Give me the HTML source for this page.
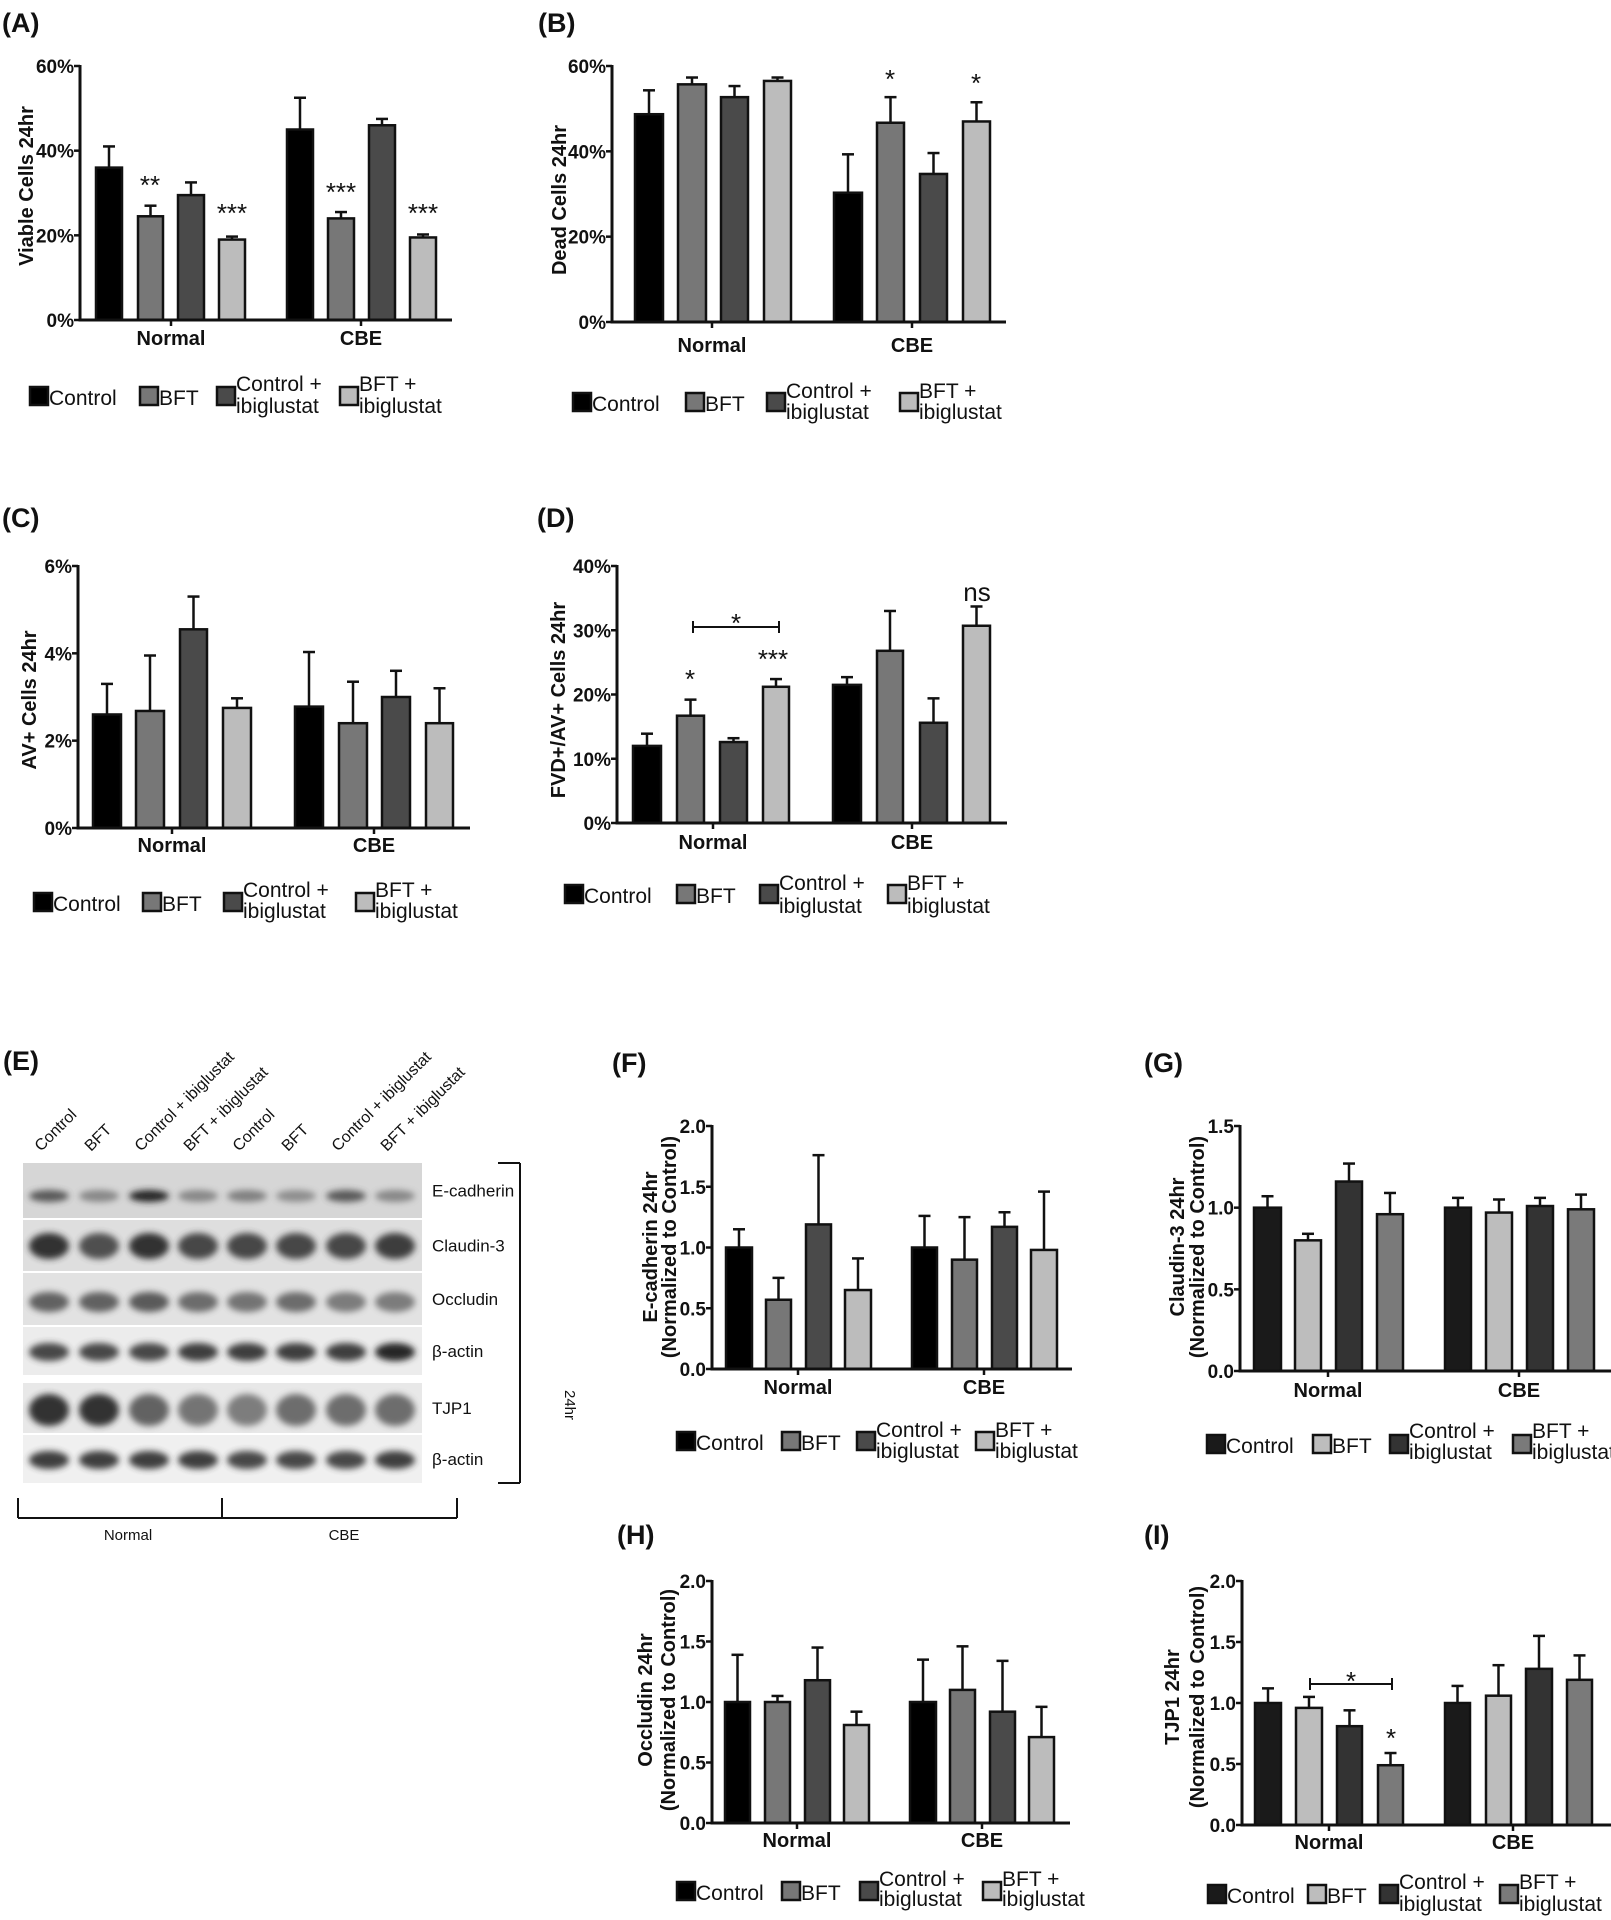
<!DOCTYPE html>
<html><head><meta charset="utf-8"><style>
html,body{margin:0;padding:0;background:#fff;}
svg{display:block;font-family:"Liberation Sans",Arial,sans-serif;}
</style></head><body>
<svg id="s" width="1611" height="1920" viewBox="0 0 1611 1920" xmlns="http://www.w3.org/2000/svg">
<defs>
<filter id="bl" x="-30%" y="-100%" width="160%" height="300%"><feGaussianBlur stdDeviation="3.2"/></filter>
</defs>
<g id="g"></g>
</svg>
<script>
var out=[];
function T(x,y,s,size,opt){opt=opt||{};
 out.push('<text x="'+x+'" y="'+y+'" font-size="'+size+'"'+(opt.b?' font-weight="bold"':'')+' text-anchor="'+(opt.a||'start')+'"'+(opt.tr?' transform="'+opt.tr+'"':'')+' fill="#111">'+s+'</text>');}
function L(x1,y1,x2,y2,w){out.push('<line x1="'+x1+'" y1="'+y1+'" x2="'+x2+'" y2="'+y2+'" stroke="#111" stroke-width="'+(w||2.5)+'"/>');}
function R(x,y,w,h,f,sw){out.push('<rect x="'+x+'" y="'+y+'" width="'+w+'" height="'+h+'" fill="'+f+'" stroke="#111" stroke-width="'+(sw||2.5)+'"/>');}
var C1=['#000','#777','#4a4a4a','#bcbcbc'];
var C2=['#1a1a1a','#bdbdbd','#333','#7a7a7a'];
function P(c){
 var ys=function(v){return c.y0-(v/c.ymax)*(c.y0-c.yt);};
 c.bars.forEach(function(b,i){
  var x1=b[0],x2=b[1],v=b[2],e=b[3],col=c.col[i%4];
  var yt=ys(v),ye=ys(e),cx=(x1+x2)/2;
  L(cx,yt,cx,ye,2.5);L(cx-6,ye,cx+6,ye,2.5);
  R(x1,yt,x2-x1,c.y0-yt,col,2.5);
 });
 L(c.ax,c.yt-1,c.ax,c.y0+1.5,3);L(c.ax-1.5,c.y0,c.xe,c.y0,3);
 c.ticks.forEach(function(t){var y=ys(t[0]);L(c.ax-6,y,c.ax,y,2.5);T(c.ax-6,y+7,t[1],19,{b:1,a:'end'});});
 L(c.nx,c.y0,c.nx,c.y0+6,2.5);L(c.cx,c.y0,c.cx,c.y0+6,2.5);
 T(c.nx,c.cy+1,'Normal',20,{b:1,a:'middle'});T(c.cx,c.cy+1,'CBE',20,{b:1,a:'middle'});
 c.title.forEach(function(t){T(t[0]+1,t[1],t[2],20,{b:1,a:'middle',tr:'rotate(-90 '+(t[0]+1)+' '+t[1]+')'});});
 var lg=c.lg,sz=18;
 var lab=[['Control'],['BFT'],['Control +','ibiglustat'],['BFT +','ibiglustat']];
 lg.x.forEach(function(x,i){
  R(x,lg.y,sz,sz,c.col[i],2.5);
  if(lab[i].length==1)T(x+sz+1,lg.y+sz,lab[i][0],21);
  else{T(x+sz+1,lg.b1,lab[i][0],21);T(x+sz+1,lg.b2,lab[i][1],21);}
 });
 (c.extra||[]).forEach(function(f){f(ys);});
 T(c.lx,c.ly,c.label,27,{b:1});
}
try{
P({ax:80,yt:66,y0:320,ymax:60,xe:452,ticks:[[0,'0%'],[20,'20%'],[40,'40%'],[60,'60%']],
 bars:[[96,122,36,41],[138,163,24.5,27],[178,204,29.5,32.5],[219,245,19,19.7],[287,313,45,52.5],[328,354,24,25.5],[369,395,46,47.5],[410,436,19.5,20.2]],
 col:C1,nx:171,cx:361,cy:344,title:[[32,186,'Viable Cells 24hr']],
 lg:{x:[30,140,217,340],y:387,b1:391,b2:413},label:'(A)',lx:2,ly:32,
 extra:[function(){T(150,194,'**',26,{a:'middle'});T(232,222,'***',26,{a:'middle'});T(341,201,'***',26,{a:'middle'});T(423,222,'***',26,{a:'middle'});}]});
P({ax:612,yt:66,y0:322,ymax:60,xe:1006,ticks:[[0,'0%'],[20,'20%'],[40,'40%'],[60,'60%']],
 bars:[[635,663,48.7,54.3],[678,706,55.7,57.3],[721,748,52.7,55.3],[764,791,56.5,57.3],[834,862,30.3,39.3],[877,904,46.7,52.7],[920,947,34.7,39.6],[963,990,47,51.5]],
 col:C1,nx:712,cx:912,cy:351,title:[[565,200,'Dead Cells 24hr']],
 lg:{x:[573,686,767,900],y:393,b1:398,b2:419},label:'(B)',lx:538,ly:32,
 extra:[function(){T(890,88,'*',26,{a:'middle'});T(976,92,'*',26,{a:'middle'});}]});
P({ax:78,yt:566,y0:828,ymax:6,xe:470,ticks:[[0,'0%'],[2,'2%'],[4,'4%'],[6,'6%']],
 bars:[[93,121,2.6,3.3],[136,164,2.68,3.95],[180,207,4.55,5.3],[223,251,2.75,2.97],[295,323,2.78,4.03],[339,367,2.4,3.35],[382,410,3.0,3.6],[426,453,2.4,3.2]],
 col:C1,nx:172,cx:374,cy:851,title:[[35,700,'AV+ Cells 24hr']],
 lg:{x:[34,143,224,356],y:893,b1:897,b2:918},label:'(C)',lx:2,ly:527});
P({ax:617,yt:566,y0:823,ymax:40,xe:1007,ticks:[[0,'0%'],[10,'10%'],[20,'20%'],[30,'30%'],[40,'40%']],
 bars:[[633,661,12,13.9],[677,704,16.7,19.2],[720,747,12.6,13.2],[763,789,21.2,22.4],[833,861,21.5,22.7],[877,903,26.8,33],[920,947,15.6,19.4],[963,990,30.7,33.7]],
 col:C1,nx:713,cx:912,cy:848,title:[[564,700,'FVD+/AV+ Cells 24hr']],
 lg:{x:[565,677,760,888],y:885,b1:890,b2:913},label:'(D)',lx:537,ly:527,
 extra:[function(){T(690,688,'*',26,{a:'middle'});T(773,668,'***',26,{a:'middle'});
  L(693,627,779,627,2);L(693,621,693,633,2);L(779,621,779,633,2);T(736,632,'*',26,{a:'middle'});
  T(977,601,'ns',26,{a:'middle'});}]});
P({ax:712,yt:1126,y0:1369,ymax:2,xe:1072,ticks:[[0,'0.0'],[0.5,'0.5'],[1,'1.0'],[1.5,'1.5'],[2,'2.0']],
 bars:[[726,752,1.0,1.15],[766,791,.57,.75],[806,831,1.19,1.76],[845,871,.65,.91],[912,937,1.0,1.26],[952,977,.9,1.25],[992,1017,1.17,1.29],[1031,1057,.98,1.46]],
 col:C1,nx:798,cx:984,cy:1393,title:[[656,1247,'E-cadherin 24hr'],[675,1247,'(Normalized to Control)']],
 lg:{x:[677,782,857,976],y:1432,b1:1437,b2:1458},label:'(F)',lx:612,ly:1072});
P({ax:1240,yt:1126,y0:1371,ymax:1.5,xe:1611,ticks:[[0,'0.0'],[0.5,'0.5'],[1,'1.0'],[1.5,'1.5']],
 bars:[[1254,1281,1.0,1.07],[1295,1321,.8,.84],[1336,1362,1.16,1.27],[1377,1403,.96,1.09],[1445,1471,1.0,1.06],[1486,1512,.97,1.05],[1527,1553,1.01,1.06],[1568,1594,.99,1.08]],
 col:C2,nx:1328,cx:1519,cy:1396,title:[[1183,1247,'Claudin-3 24hr'],[1203,1247,'(Normalized to Control)']],
 lg:{x:[1207,1313,1390,1513],y:1435,b1:1438,b2:1459},label:'(G)',lx:1144,ly:1072});
P({ax:712,yt:1581,y0:1823,ymax:2,xe:1070,ticks:[[0,'0.0'],[0.5,'0.5'],[1,'1.0'],[1.5,'1.5'],[2,'2.0']],
 bars:[[725,750,1.0,1.39],[765,790,1.0,1.05],[805,830,1.18,1.45],[844,869,.81,.92],[910,936,1.0,1.35],[950,975,1.1,1.46],[990,1015,.92,1.34],[1029,1054,.71,.96]],
 col:C1,nx:797,cx:982,cy:1846,title:[[651,1700,'Occludin 24hr'],[674,1700,'(Normalized to Control)']],
 lg:{x:[677,782,860,983],y:1882,b1:1886,b2:1906},label:'(H)',lx:617,ly:1544});
P({ax:1242,yt:1581,y0:1825,ymax:2,xe:1611,ticks:[[0,'0.0'],[0.5,'0.5'],[1,'1.0'],[1.5,'1.5'],[2,'2.0']],
 bars:[[1255,1281,1.0,1.12],[1296,1322,.96,1.05],[1337,1362,.81,.94],[1378,1403,.49,.59],[1445,1470,1.0,1.14],[1486,1511,1.06,1.31],[1526,1552,1.28,1.55],[1567,1592,1.19,1.39]],
 col:C2,nx:1329,cx:1513,cy:1848,title:[[1178,1697,'TJP1 24hr'],[1203,1697,'(Normalized to Control)']],
 lg:{x:[1208,1308,1380,1500],y:1885,b1:1889,b2:1911},label:'(I)',lx:1144,ly:1544,
 extra:[function(){L(1310,1684,1392,1684,2);L(1310,1678,1310,1690,2);L(1392,1678,1392,1690,2);T(1351,1690,'*',26,{a:'middle'});T(1391,1747,'*',26,{a:'middle'});}]});
(function(){
 var cx=[49,99,149,198,247,296,346,395];
 var strips=[[1163,1218,'#d6d6d6','E-cadherin',[.75,.45,1,.45,.5,.4,.75,.45],6,1196],
  [1220,1271,'#dedede','Claudin-3',[.95,.8,.95,.85,.85,.85,.85,.9],13,1246],
  [1273,1325,'#e2e2e2','Occludin',[.7,.7,.75,.65,.6,.65,.55,.55],10,1302],
  [1327,1375,'#ececec','β-actin',[.85,.85,.85,.9,.9,.9,.9,1],9,1352],
  [1383,1433,'#e8e8e8','TJP1',[.95,.95,.7,.6,.55,.65,.65,.65],16,1410],
  [1435,1483,'#f0f0f0','β-actin',[.9,.9,.9,.9,.85,.85,.85,.9],9,1460]];
 strips.forEach(function(s){
  out.push('<rect x="23" y="'+s[0]+'" width="399" height="'+(s[1]-s[0])+'" fill="'+s[2]+'"/>');
  s[4].forEach(function(v,i){
   var g=Math.round(40+(1-v)*120);
   out.push('<ellipse cx="'+cx[i]+'" cy="'+s[6]+'" rx="20" ry="'+s[5]+'" fill="rgb('+g+','+g+','+g+')" opacity="'+(0.5+v*0.5)+'" filter="url(#bl)"/>');
  });
  T(432,(s[0]+s[1])/2+6,s[3],17,{});
 });
 var labs=['Control','BFT','Control + ibiglustat','BFT + ibiglustat','Control','BFT','Control + ibiglustat','BFT + ibiglustat'];
 labs.forEach(function(l,i){var x=cx[i]-8,y=1152;T(x,y,l,16,{tr:'rotate(-45 '+x+' '+y+')'});});
 L(520,1163,520,1483,2);L(498,1163,520,1163,2);L(498,1483,520,1483,2);
 T(565,1405,'24hr',15,{a:'middle',tr:'rotate(90 565 1405)'});
 L(18,1518,457,1518,2);L(18,1498,18,1518,2);L(222,1498,222,1518,2);L(457,1498,457,1518,2);
 T(128,1540,'Normal',15,{a:'middle'});T(344,1540,'CBE',15,{a:'middle'});
 T(3,1070,'(E)',27,{b:1});
})();
}catch(e){}
document.getElementById('g').innerHTML=out.join('');
</script>
</body></html>
